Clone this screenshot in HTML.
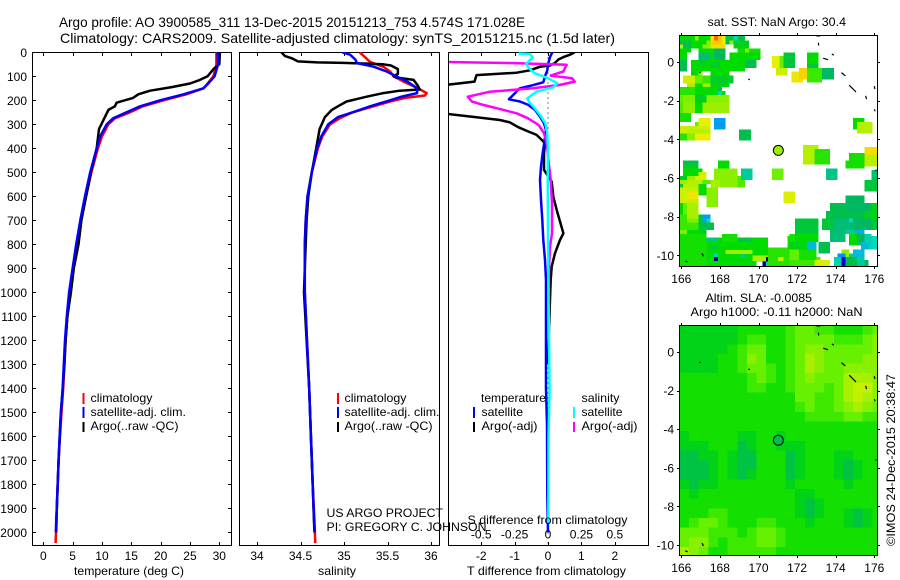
<!DOCTYPE html>
<html lang="en">
<head>
<meta charset="utf-8">
<title>Argo profile 3900585_311</title>
<style>
html,body{margin:0;padding:0;background:#fff;}
svg{display:block;}
text{font-family:"Liberation Sans",sans-serif;font-size:12px;fill:#000;}
.t14{font-size:14px;}
.ax{fill:none;stroke:#000;stroke-width:1;shape-rendering:crispEdges;}
</style>
</head>
<body>
<svg id="chart" xmlns="http://www.w3.org/2000/svg" width="900" height="580" viewBox="0 0 900 580">
<defs>
<clipPath id="clip-t"><rect x="33" y="52" width="198" height="493"/></clipPath>
<clipPath id="clip-s"><rect x="240" y="52" width="199" height="493"/></clipPath>
<clipPath id="clip-d"><rect x="449" y="52" width="199" height="493"/></clipPath>
<clipPath id="clip-m1"><rect x="679.5" y="35.5" width="198" height="231"/></clipPath>
<clipPath id="clip-m2"><rect x="679.5" y="325.5" width="198" height="230"/></clipPath>
</defs>
<rect x="0" y="0" width="900" height="580" fill="#fff"/>
<text class="t14" x="59" y="27" textLength="466" lengthAdjust="spacingAndGlyphs">Argo profile: AO 3900585_311 13-Dec-2015 20151213_753 4.574S 171.028E</text>
<text class="t14" x="60" y="43" textLength="555" lengthAdjust="spacingAndGlyphs">Climatology: CARS2009. Satellite-adjusted climatology: synTS_20151215.nc (1.5d later)</text>

<g id="layer-map1"></g>
<g id="layer-map2"></g>
<g id="layer-panels"></g>

<g>
<rect x="82.5" y="393" width="2" height="11" fill="#f00"/>
<rect x="82.5" y="407" width="2" height="11" fill="#00f"/>
<rect x="82.5" y="422" width="2" height="10" fill="#000"/>
<text x="90.5" y="402" textLength="62" lengthAdjust="spacingAndGlyphs">climatology</text>
<text x="90.5" y="416" textLength="95.5" lengthAdjust="spacingAndGlyphs">satellite-adj. clim.</text>
<text x="90.5" y="430" textLength="88" lengthAdjust="spacingAndGlyphs">Argo(..raw -QC)</text>
</g>
<g>
<rect x="337" y="393" width="2" height="11" fill="#f00"/>
<rect x="337" y="407" width="2" height="11" fill="#00f"/>
<rect x="337" y="422" width="2" height="10" fill="#000"/>
<text x="344.5" y="402" textLength="62" lengthAdjust="spacingAndGlyphs">climatology</text>
<text x="344.5" y="416" textLength="95" lengthAdjust="spacingAndGlyphs">satellite-adj. clim.</text>
<text x="344.5" y="430" textLength="88" lengthAdjust="spacingAndGlyphs">Argo(..raw -QC)</text>
</g>
<g>
<text x="481" y="402" textLength="65" lengthAdjust="spacingAndGlyphs">temperature</text>
<rect x="473" y="407" width="2" height="11" fill="#00f"/>
<rect x="473" y="422" width="2" height="10" fill="#000"/>
<text x="481.5" y="416" textLength="41.5" lengthAdjust="spacingAndGlyphs">satellite</text>
<text x="481.5" y="430" textLength="56" lengthAdjust="spacingAndGlyphs">Argo(-adj)</text>
<text x="581.5" y="402" textLength="38" lengthAdjust="spacingAndGlyphs">salinity</text>
<rect x="573" y="407" width="2" height="11" fill="#0ff"/>
<rect x="573" y="422" width="2" height="10" fill="#f0f"/>
<text x="581.5" y="416" textLength="41" lengthAdjust="spacingAndGlyphs">satellite</text>
<text x="581.5" y="430" textLength="56" lengthAdjust="spacingAndGlyphs">Argo(-adj)</text>
</g>

<text x="326.5" y="517" textLength="116.5" lengthAdjust="spacingAndGlyphs">US ARGO PROJECT</text>
<text x="326.5" y="531" textLength="160" lengthAdjust="spacingAndGlyphs">PI: GREGORY C. JOHNSON</text>
<text x="467.5" y="524" textLength="160" lengthAdjust="spacingAndGlyphs">S difference from climatology</text>
<text x="467" y="575" textLength="159" lengthAdjust="spacingAndGlyphs">T difference from climatology</text>
<text x="74" y="575" textLength="110" lengthAdjust="spacingAndGlyphs">temperature (deg C)</text>
<text x="318" y="575" textLength="38" lengthAdjust="spacingAndGlyphs">salinity</text>

<text x="707.5" y="26" textLength="138.5" lengthAdjust="spacingAndGlyphs">sat. SST: NaN Argo: 30.4</text>
<text x="705.5" y="302" textLength="106.5" lengthAdjust="spacingAndGlyphs">Altim. SLA: -0.0085</text>
<text x="690.5" y="316" textLength="172" lengthAdjust="spacingAndGlyphs">Argo h1000: -0.11 h2000: NaN</text>
<text transform="translate(895 546) rotate(-90)" x="0" y="0" textLength="172" lengthAdjust="spacingAndGlyphs">©IMOS 24-Dec-2015 20:38:47</text>
</svg>

<script>
/* ---------- axis tick data ---------- */
const depthTicks = [0,100,200,300,400,500,600,700,800,900,1000,1100,1200,1300,1400,1500,1600,1700,1800,1900,2000];
const tempTicks = [0,5,10,15,20,25,30];
const salTicks = [34,34.5,35,35.5,36];
const tDiffTicks = [-2,-1,0,1,2];
const sDiffTicks = [-0.5,-0.25,0,0.25,0.5];
const lonTicks = [166,168,170,172,174,176];
const latTicks = [0,-2,-4,-6,-8,-10];

/* ---------- temperature profiles ---------- */
const climTDepth = [0,50,100,130,150,175,200,225,250,275,300,350,400,500,600,700,800,900,1000,1100,1200,1300,1400,1500,1600,1700,1800,1900,2000,2045];
const climTemp = [29.5,29.5,29,28,27.3,24.4,20.5,17,14.8,12.2,11.1,10,9.3,8.2,7.3,6.4,5.8,5.1,4.5,4.1,3.8,3.6,3.4,3.1,2.85,2.6,2.45,2.3,2.16,2.1];
const satTDepth = [0,50,100,130,150,175,200,225,250,275,300,350,400,500,600,700,800,900,1000,1100,1200,1300,1400,1500,1600,1700,1800,1900,1950,2000];
const satTemp = [29.7,29.8,29.2,28.1,27.3,23.9,19.9,16.5,14.2,11.9,10.8,9.7,9.1,8,7.1,6.3,5.6,5,4.4,4,3.7,3.5,3.3,3,2.8,2.6,2.45,2.3,2.2,2.15];
const argoTDepth = [0,50,70,100,115,130,145,160,175,190,210,225,240,270,320,400,500,600,700,800,900,1000,1100,1200,1300,1400,1500,1600,1700,1800,1900,2000];
const argoTemp = [30.1,30,29,28,26.7,25,21.9,18.2,16.2,15.3,12.5,12.2,11.1,10.5,9.5,9.1,8.1,7.3,6.5,6,5.2,4.7,4.1,3.8,3.6,3.3,3,2.8,2.6,2.45,2.3,2.2];

/* ---------- salinity profiles ---------- */
const climSDepth = [0,20,40,60,80,100,125,150,170,180,190,205,225,250,275,300,350,400,500,600,700,800,1000,1400,1600,1800,1950,2045];
const climSal = [35.18,35.24,35.3,35.45,35.53,35.57,35.7,35.85,35.95,35.93,35.7,35.53,35.34,35.1,34.95,34.84,34.75,34.7,34.63,34.58,34.56,34.55,34.55,34.6,34.62,34.64,34.66,34.67];
const satSDepth = [0,10,30,45,60,80,100,125,150,170,185,200,225,250,270,300,350,400,500,600,700,800,1000,1400,1600,1800,1950,2000];
const satSal = [34.98,35.07,35.13,35.15,35.34,35.49,35.6,35.74,35.84,35.84,35.66,35.53,35.3,35.1,34.93,34.82,34.74,34.69,34.63,34.58,34.56,34.55,34.55,34.6,34.62,34.64,34.655,34.665];
const argoSDepth = [0,15,25,38,42,44,47,50,55,70,90,100,105,115,125,140,155,160,170,185,205,225,240,270,320,400,500,600,700,800,900,1000,1400,1800,2000];
const argoSal = [34.28,34.32,34.4,34.47,34.69,34.99,35.26,35.45,35.54,35.62,35.62,35.57,35.6,35.8,35.82,35.85,35.87,35.64,35.45,35.26,35.03,34.93,34.86,34.78,34.72,34.68,34.63,34.59,34.57,34.56,34.55,34.54,34.6,34.64,34.66];

/* ---------- difference profiles ---------- */
const dArgoTDepth = [0,10,20,30,45,55,60,75,85,95,122,135,150,250,257,271,282,292,312,330,344,365,379,420,490,539,601,657,705,754,782,837,893,948,1031,1150,1300];
const dArgoT = [0.8,0.66,0.46,0.31,0.2,0.06,-0.24,-0.54,-0.94,-2.14,-2.2,-3,-4,-4,-3,-2.14,-1.44,-1.14,-0.89,-0.59,-0.34,-0.19,-0.09,-0.12,-0.12,0.11,0.16,0.26,0.36,0.46,0.36,0.21,0.11,0.08,0.06,0.03,0];
const dSatTDepth = [0,20,50,75,100,115,125,140,150,160,171,196,205,219,240,268,296,324,365,420,476,532,615,698,782,865,948,1031,1400,1550,1850,2000];
const dSatT = [0.13,0.06,0,-0.02,-0.09,-0.12,-0.14,-0.54,-0.84,-0.92,-0.99,-1.17,-0.84,-0.59,-0.39,-0.24,-0.12,-0.06,-0.1,-0.16,-0.21,-0.24,-0.21,-0.17,-0.14,-0.09,-0.06,-0.06,-0.06,-0.03,-0.02,0];
const dArgoSDepth = [38,42,45,52,80,97,108,122,136,150,164,185,205,219,233,254,275,303,337,379,435,532,629,754,810,893,1000,1200];
const dArgoS = [-1,-0.6,-0.25,0.14,0.115,0.02,0.18,0.2,0.09,-0.11,-0.435,-0.6,-0.57,-0.485,-0.385,-0.235,-0.15,-0.07,-0.03,-0.01,0,0.02,0.03,0.03,0.015,0.008,0.005,0.005];
const dSatSDepth = [5,7,21,35,49,67,87,108,129,146,164,192,212,233,261,296,337,407,504,754,1031,1400,1600,1960];
const dSatS = [-0.22,-0.135,-0.115,-0.14,-0.165,-0.14,-0.1,0,0.07,0.04,-0.085,-0.155,-0.135,-0.1,-0.06,-0.02,-0.005,0,-0.002,0,0.004,0.012,0.004,0.002];

/* ---------- SST map: [lonWest, lonEast, latNorth, latSouth, sstDegC] ---------- */
const sstPatchesNorthWest = [
[165.9,166.7,1.4,1.1,29.5],[166.7,166.9,1.4,1.1,30.4],[166.9,167.5,1.4,1.1,29.5],[167.5,167.7,1.4,1.1,31],[167.7,167.9,1.4,1.1,32],[167.9,168.1,1.4,1.1,31.5],[168.1,168.3,1.4,1.1,31],[168.3,168.7,1.4,1.1,29.1],[168.7,168.9,1.4,1.1,28.5],[168.9,169.3,1.4,1.1,29.1],
[165.9,166.5,1.1,0.9,29.1],[166.5,167.3,1.1,0.9,29.5],[167.3,167.5,1.1,0.9,30.3],[167.5,168.1,1.1,0.9,31.4],[168.1,168.3,1.1,0.9,31],[168.3,168.5,1.1,0.9,29.1],[168.5,168.7,1.1,0.9,30.3],[168.7,169.5,1.1,0.9,29.3],
[165.9,166.1,0.9,0.7,30.6],[166.1,166.5,0.9,0.7,29.1],[166.5,167.1,0.9,0.7,29.5],[167.1,167.5,0.9,0.7,30.3],[167.5,167.7,0.9,0.7,30.8],[167.7,168.3,0.9,0.7,31.2],[168.7,169.5,0.9,0.7,29.4],
[165.9,166.5,0.7,0.5,29.5],[166.9,167.7,0.7,0.5,29.5],[167.7,168.3,0.7,0.5,29],[168.9,170.1,0.7,0.5,29.6],[169.3,169.5,0.7,0.5,30.3],
[165.9,166.3,0.5,0.1,29.5],[166.9,167.5,0.5,0.1,28.9],[167.5,167.7,0.5,0.1,29.5],[167.7,168.3,0.5,0.1,29],[168.5,170.1,0.5,0.1,29.5],
[165.9,166.3,0.1,-0.5,29.1],[166.5,169.3,0.1,-0.5,29.5],[169.3,169.9,0.1,-0.3,29.1],[166.9,167.3,0.1,-0.2,29.3],[167.5,168,0.05,-0.3,29.3],
[166.5,166.9,-0.5,-0.7,29.5],[166.9,167.1,-0.5,-0.7,30.3],[167.5,168.5,-0.5,-0.7,29.5],
[166.1,166.7,-0.7,-1.1,30.8],[166.7,167.1,-0.7,-1.1,30],[167.1,167.5,-0.7,-1.1,29.8],[167.5,168.7,-0.7,-1.1,29.3],
[166.3,166.7,-1.1,-1.3,30.5],[166.7,167.1,-1.1,-1.3,29.5],[167.1,167.5,-1.1,-1.3,30.4],[167.5,168.5,-1.1,-1.3,29.4],
[165.9,166.7,-1.3,-1.7,29.7],[166.7,167.9,-1.3,-1.7,29.5],[167.9,168.1,-1.5,-1.7,28.5],[167.9,168.1,-1.3,-1.5,29.2],[168.1,168.3,-1.5,-1.7,29.5],
[165.9,166.1,-1.7,-2.1,30],[166.1,166.7,-1.7,-2.1,30.2],[166.7,167.3,-1.7,-2.1,29.3],[167.3,168.5,-1.7,-2.1,30.3],
[165.9,166.1,-2.1,-2.65,29.9],[166.1,166.7,-2.1,-2.65,30.3],[166.7,167.1,-2.1,-2.65,29.5],[167.1,168.5,-2.1,-2.65,30.4],
[165.9,166.5,-2.65,-3.1,29.6],[166.7,166.9,-3.1,-3.3,30],[166.9,167.5,-2.9,-3.3,31],[165.9,166.9,-3.3,-3.5,30.7],[166.9,167.5,-3.3,-3.5,30.8],[167.7,168.3,-2.9,-3.5,28.1],
[165.9,166.3,-3.5,-3.7,30.8],[166.3,167.5,-3.5,-3.7,30.6],
[165.9,166.3,-3.7,-4.05,29.7],[166.3,166.7,-3.7,-4.05,30.3],[166.7,167.5,-3.7,-4.05,31],[169,169.6,-3.5,-4.05,29.1]
];
const sstPatchesNorthEast = [
[170.7,171.1,0.3,-0.3,31],[171.1,171.3,0.3,-0.3,30],[170.9,171.5,-0.3,-0.7,30.8],[171.3,171.9,0.5,-0.3,29.2],[171.7,172.3,-0.5,-1.07,31.1],[172.1,172.5,-0.3,-0.9,31.3],
[172.5,173.1,0.5,-0.1,29.5],[172.5,173.1,-0.1,-0.3,29.2],[172.5,173.3,-0.3,-1.07,29.8],[173.3,173.9,-0.3,-0.9,29],
[174.9,175.5,-2.9,-3.5,29.5],[175.1,175.9,-3.1,-3.7,30.6],
[172.3,173.1,-4.3,-5.3,30.6],[172.9,173.7,-4.5,-5.3,29.7],
[174.7,175.5,-4.7,-5.5,29.6],[174.5,175.5,-5.1,-5.5,29.6],[175.5,176.15,-4.4,-4.8,31.2],[175.5,176.15,-4.8,-5.4,30.6]
];
const sstPatchesSouthWest = [
[166.1,166.9,-5.1,-5.3,29.1],[166.1,166.9,-5.3,-5.5,29.3],[166.1,167.1,-5.5,-5.9,29.5],[166.9,167.3,-5.7,-5.9,30.8],
[167.9,168.5,-5.1,-5.7,29.5],[167.7,168.9,-5.5,-6.5,30.3],[168.9,169.3,-5.9,-6.5,29.9],[169.1,169.7,-5.5,-6.1,28.7],[170.7,171.3,-5.5,-6.1,30.1],
[165.9,166.3,-5.9,-6.1,29.3],[166.3,166.7,-5.9,-6.1,30.4],[166.7,167.3,-5.9,-6.1,30.9],
[165.9,166.3,-6.1,-6.3,30.4],[166.3,167.1,-6.1,-6.3,30.6],[167.1,167.5,-6.1,-6.3,29.9],[167.5,168,-6.1,-6.5,30.5],
[165.9,166.1,-6.3,-6.5,29.3],[166.1,166.9,-6.3,-6.5,30.6],[166.9,167.3,-6.3,-6.9,29.5],[167.3,167.9,-6.5,-6.9,30.3],
[165.9,166.3,-6.5,-7.3,30.8],[166.3,166.9,-6.5,-6.7,30.7],[166.3,166.9,-6.7,-7.1,31.1],[166.3,166.9,-7.1,-7.3,30.7],[167.3,167.9,-6.9,-7.5,30.3],
[165.9,166.1,-7.3,-7.9,29.5],[166.1,166.3,-7.3,-7.9,30],[166.3,166.9,-7.3,-8.1,30.5],[165.9,166.3,-7.9,-8.3,29.8],[166.3,166.9,-8.1,-8.3,30.2],
[166.9,167.1,-7.9,-8.7,29.2],[167.1,167.5,-7.9,-8.1,28.1],[167.1,167.3,-8.1,-8.3,28.1],[167.3,167.5,-8.1,-8.3,28.5],[167.1,167.7,-8.3,-8.7,29.1],
[165.9,166.9,-8.3,-8.7,29.8],[165.9,166.3,-8.7,-8.9,30.2],[166.3,167.1,-8.7,-8.9,29.5],[167.1,167.3,-8.7,-8.9,29.2],
[165.9,167.3,-8.9,-10.55,29.6],[167.3,168,-9.07,-9.3,28.8],[167.9,168.1,-9.07,-9.3,29.5],[168.1,168.9,-8.9,-9.3,29.6],[168.9,169.7,-9.07,-9.3,29.2],[169.7,170.5,-9.07,-9.3,29.5],
[167.3,169.9,-9.3,-10.55,29.5],[169.9,170.5,-9.3,-10.33,29.5],[167.5,167.9,-9.5,-9.7,29.2],[167.7,167.9,-9.9,-10.1,28.5],[167.7,167.9,-10.1,-10.3,27],
[168.3,169.7,-9.72,-9.93,30.4],[169.1,169.3,-9.93,-10.15,28.7],[169.7,170.5,-10,-10.3,30.5],[170.2,170.4,-10.33,-10.55,27],[170.4,170.6,-10.1,-10.33,27],[170.4,170.6,-10.33,-10.55,28.6],
[170.5,171.6,-9.6,-10.55,29.7],[171.5,171.9,-9,-9.7,29.6],[171,171.3,-10.1,-10.3,30.8]
];
const sstPatchesSouthEast = [
[173.5,174.1,-5.5,-6.1,28.8],[175.85,176.15,-5.6,-6.1,28.9],[175.5,176.15,-6.1,-6.7,29.2],[171.3,171.9,-6.7,-7.3,30.9],
[174.5,175.5,-6.9,-7.3,29],[173.7,174.5,-7.3,-7.7,29.1],[174.5,176.15,-7.3,-7.7,29],[175.85,176.15,-7.3,-7.7,29.4],
[173.5,176.15,-7.7,-8.1,29.1],[175.5,176.15,-7.7,-8.1,29.4],
[171.9,173.1,-8.1,-8.9,29.2],[173.3,173.9,-8.1,-8.7,29.2],[173.9,174.9,-8.1,-8.7,28.9],[174.7,174.9,-8.1,-8.3,28.5],[174.9,175.85,-8.1,-8.7,29],[175.85,176.15,-8.1,-8.7,29.2],
[173.7,174.5,-8.7,-9.3,28.9],[174.5,175,-8.7,-8.9,28.7],[175,175.5,-8.7,-8.9,28.2],[174.7,175.1,-8.9,-9.5,29.5],[175.1,175.5,-8.9,-9.5,29],[175.5,175.85,-8.9,-9.7,28.6],[175.85,176.15,-9,-9.7,28.5],[175.3,175.7,-9.3,-9.7,28.3],
[171.6,171.9,-8.9,-9.3,29.6],[171.9,173.1,-8.9,-9.3,29.5],[171.6,172.9,-9.3,-9.7,29.4],[172.5,173,-9.3,-9.7,28.3],[173.1,173.7,-9.3,-9.9,29.1],
[171.6,172.1,-9.7,-10.25,30],[172.1,173,-9.7,-10.25,29.6],[173,173.2,-10.1,-10.25,30],[171.6,172.9,-10.25,-10.55,29.8],[172.9,173.7,-10.25,-10.55,30.9],
[174.3,174.7,-9.7,-10.1,30.3],[174.1,174.5,-9.9,-10.25,28],[174.3,174.5,-10.1,-10.55,27.5],[173.9,174.3,-10.1,-10.55,28.6],[174.5,175.1,-10.1,-10.55,29.1],[174.9,175.5,-9.7,-10.1,28.3],[174.7,174.9,-9.9,-10.1,28.7],[175.1,175.5,-10.1,-10.55,28.7],[175.5,175.7,-10.25,-10.55,29]
];
const argoSst = 30.4;

/* ---------- SLA map: rows north to south, 0.5 degree cells, in cm ---------- */
const slaLonStart = 165.9;
const slaLatStart = 1.4;
const slaStep = 0.5;
const slaRows = [
[0,0,0,0,0,0,1,1,1,1,1,2,3,3,2,2,1,1,1,2,3],
[0,0,0,0,0,0,1,2,2,1,1,2,3,3,3,3,2,2,2,3,4],
[0,0,0,0,0,1,2,3,3,1,1,2,3,4,4,3,3,3,3,3,4],
[0,0,0,0,1,1,2,4,3,1,1,2,3,5,4,3,3,3,3,4,4],
[0,0,0,0,1,1,2,3,3,2,1,2,3,5,4,3,3,4,4,4,4],
[1,1,1,1,1,1,1,2,3,2,1,2,3,4,3,3,3,5,5,5,4],
[1,1,1,1,1,1,1,2,2,1,1,2,3,3,3,2,3,5,6,6,4],
[1,1,1,1,1,1,1,1,1,1,1,1,3,3,2,2,3,5,6,5,4],
[1,1,1,1,1,1,1,1,1,1,1,1,2,3,2,2,3,4,5,4,3],
[1,1,1,1,1,1,1,1,1,1,1,1,1,2,2,2,2,3,3,2,2],
[1,1,1,1,1,1,1,1,1,1,1,1,1,1,1,1,1,1,1,1,1],
[0,1,1,1,1,1,0,0,1,1,0,1,1,1,1,1,1,1,1,1,1],
[0,0,0,1,1,1,-1,0,1,1,0,0,0,1,1,1,1,1,1,1,1],
[-1,-1,0,0,1,0,-1,-1,1,1,1,-1,0,1,1,1,0,0,1,1,1],
[-1,-1,-1,0,1,0,-1,-1,1,1,1,-1,0,1,1,1,0,-1,0,1,1],
[-1,-1,-1,0,1,0,-1,0,1,1,1,-1,0,1,1,1,0,-1,0,1,1],
[0,-1,0,0,1,1,1,1,1,1,1,0,1,1,1,1,1,0,1,1,1],
[1,0,1,1,1,1,1,1,1,1,1,1,0,0,1,1,1,1,1,1,1],
[1,1,1,1,1,1,1,1,1,1,1,1,0,-1,0,1,1,1,1,1,1],
[1,1,1,2,2,1,1,1,1,1,1,1,0,-1,0,1,1,0,-1,0,1],
[1,2,3,3,2,1,1,1,2,2,1,1,1,0,1,1,1,0,-1,0,1],
[3,3,3,2,2,2,1,2,3,3,2,1,1,1,1,1,1,1,1,1,1],
[3,4,4,2,1,2,2,2,3,3,2,1,1,1,1,1,1,1,1,1,1],
[5,4,3,1,1,2,2,2,2,2,1,1,1,1,1,1,1,1,1,1,1]
];
const argoSla = -1.5;

/* ---------- float position and coast fragments (lon, lat) ---------- */
const floatLon = 171.028;
const floatLat = -4.574;
const coastLons = [[173,173.2],[173.1,173.12],[173.35,173.6],[173.8,173.9],[174.3,174.5],[174.7,175.05],[175.55,175.6],[176,176.03],[176,176.05],[176.05,176.12],[166.93,167],[169.47,169.55],[167.07,167.15],[166.2,166.33]];
const coastLats = [[1.35,1.35],[1.0,0.85],[0.2,0.12],[0.42,0.35],[-0.55,-0.72],[-1.2,-1.55],[-1.75,-1.92],[-1.25,-1.4],[-2.45,-2.55],[-5.6,-5.6],[-0.55,-0.52],[-0.88,-0.92],[-9.9,-10.05],[-10.3,-10.35]];

/* ---------- scales ---------- */
const yDepth = p => 52.3 + p * 0.24;
const xTemp = t => 43.3 + t * 5.867;
const xSal = s => 257 + (s - 34) * 87;
const xTDiff = d => 548 + d * 33.4;
const xSDiff = s => 548 + s * 133.6;
const xLon = l => 681.3 + (l - 166) * 19.3;
const ySst = v => 62 - v * 19.33;
const ySla = v => 352 - v * 19.3;

const SVGNS = 'http://www.w3.org/2000/svg';
function make(tag, attrs, parent) {
  const el = document.createElementNS(SVGNS, tag);
  for (const k in attrs) el.setAttribute(k, attrs[k]);
  parent.appendChild(el);
  return el;
}

/* colour scale: index 0 navy ... 10 orange-red */
const colourStops = [[0,0,128],[0,0,224],[0,144,255],[0,216,192],[0,184,96],[0,220,0],[96,240,0],[168,240,0],[232,240,0],[255,192,0],[255,96,0]];
function colourAt(idx) {
  const i = Math.max(0, Math.min(9.999, idx));
  const f = Math.floor(i), u = i - f;
  const a = colourStops[f], b = colourStops[f + 1];
  return 'rgb(' + [0,1,2].map(n => Math.round(a[n] + (b[n] - a[n]) * u)).join(',') + ')';
}
const sstColour = s => colourAt((s - 27) / 0.5);
const slaColour = cm => colourAt(4.75 + cm * 0.45);

/* ---------- profile panels ---------- */
const panels = document.getElementById('layer-panels');

function drawLine(parent, depths, values, xf, colour, clipId, name) {
  const pts = depths.map((p, i) => xf(values[i]).toFixed(1) + ',' + yDepth(p).toFixed(1)).join(' ');
  const el = make('polyline', {points: pts, fill: 'none', stroke: colour, 'stroke-width': 2.5, 'stroke-linejoin': 'round', 'clip-path': 'url(#' + clipId + ')'}, parent);
  
  
}

function drawFrame(parent, left, right, name) {
  const el = make('rect', {x: left, y: 52.5, width: right - left, height: 493, class: 'ax'}, parent);
  
  
}

function drawXTicks(parent, ticks, xf, labelY, name) {
  ticks.forEach(t => {
    const x = Math.round(xf(t)) + 0.5;
    const top = make('path', {d: 'M' + x + ' 52.5V56M' + x + ' 545.5V542', class: 'ax'}, parent);
    
    
    const lab = make('text', {x: xf(t), y: labelY, 'text-anchor': 'middle'}, parent);
    lab.textContent = String(t);
    
    
  });
}

drawFrame(panels, 32.5, 231.5, 'temperature-panel-frame');
drawFrame(panels, 239.5, 439.5, 'salinity-panel-frame');
drawFrame(panels, 448.5, 648.5, 'difference-panel-frame');

depthTicks.forEach(p => {
  const y = Math.round(yDepth(p)) + 0.5;
  const tick = make('path', {d: 'M32.5 ' + y + 'H36M231.5 ' + y + 'H228', class: 'ax'}, panels);
  
  
  const lab = make('text', {x: 27, y: yDepth(p) + 4.5, 'text-anchor': 'end'}, panels);
  lab.textContent = String(p);
  
  
});

drawXTicks(panels, tempTicks, xTemp, 560, 'temperature-axis');
drawXTicks(panels, salTicks, xSal, 560, 'salinity-axis');
drawXTicks(panels, tDiffTicks, xTDiff, 560, 't-difference-axis');

sDiffTicks.forEach(s => {
  const lab = make('text', {x: xSDiff(s), y: 538.5, 'text-anchor': 'middle'}, panels);
  lab.textContent = String(s);
  
  
});

const zeroLine = make('line', {x1: xTDiff(0), x2: xTDiff(0), y1: 52.5, y2: 545.5, stroke: '#000', 'stroke-width': 1, 'stroke-dasharray': '1 4', 'shape-rendering': 'crispEdges'}, panels);



drawLine(panels, climTDepth, climTemp, xTemp, '#f00', 'clip-t', 'temperature-climatology-line');
drawLine(panels, argoTDepth, argoTemp, xTemp, '#000', 'clip-t', 'temperature-argo-line');
drawLine(panels, satTDepth, satTemp, xTemp, '#00f', 'clip-t', 'temperature-satellite-line');

drawLine(panels, climSDepth, climSal, xSal, '#f00', 'clip-s', 'salinity-climatology-line');
drawLine(panels, argoSDepth, argoSal, xSal, '#000', 'clip-s', 'salinity-argo-line');
drawLine(panels, satSDepth, satSal, xSal, '#00f', 'clip-s', 'salinity-satellite-line');

drawLine(panels, dArgoTDepth, dArgoT, xTDiff, '#000', 'clip-d', 't-difference-argo-line');
drawLine(panels, dSatTDepth, dSatT, xTDiff, '#00f', 'clip-d', 't-difference-satellite-line');
drawLine(panels, dArgoSDepth, dArgoS, xSDiff, '#f0f', 'clip-d', 's-difference-argo-line');
drawLine(panels, dSatSDepth, dSatS, xSDiff, '#0ff', 'clip-d', 's-difference-satellite-line');

/* ---------- maps ---------- */
function drawMapAxes(parent, top, bottom, yf, name) {
  const frame = make('rect', {x: 679.5, y: top, width: 198, height: bottom - top, class: 'ax'}, parent);
  
  
  lonTicks.forEach(l => {
    const x = Math.round(xLon(l)) + 0.5;
    const t = make('path', {d: 'M' + x + ' ' + top + 'v-2.5M' + x + ' ' + bottom + 'v2.5', class: 'ax'}, parent);
    
    
    const lab = make('text', {x: xLon(l), y: bottom + 16.5, 'text-anchor': 'middle'}, parent);
    lab.textContent = String(l);
    
    
  });
  latTicks.forEach(v => {
    const y = Math.round(yf(v)) + 0.5;
    const t = make('path', {d: 'M679.5 ' + y + 'h-2.5M877.5 ' + y + 'h2.5', class: 'ax'}, parent);
    
    
    const lab = make('text', {x: 674, y: yf(v) + 4.5, 'text-anchor': 'end'}, parent);
    lab.textContent = String(v);
    
    
  });
}

function drawCoast(parent, yf, clipId, name) {
  coastLons.forEach((lons, i) => {
    const seg = make('line', {x1: xLon(lons[0]), x2: xLon(lons[1]), y1: yf(coastLats[i][0]), y2: yf(coastLats[i][1]), stroke: '#000', 'stroke-width': 1.2, 'clip-path': 'url(#' + clipId + ')'}, parent);
    
    
  });
}

function drawFloat(parent, yf, colour, name) {
  const c = make('circle', {cx: xLon(floatLon), cy: yf(floatLat), r: 5, fill: colour, stroke: '#000', 'stroke-width': 1}, parent);
  
  
}

const map1 = document.getElementById('layer-map1');
[sstPatchesNorthWest, sstPatchesNorthEast, sstPatchesSouthWest, sstPatchesSouthEast].forEach(group => {
  group.forEach(p => {
    const r = make('rect', {x: xLon(p[0]), y: ySst(p[2]), width: xLon(p[1]) - xLon(p[0]), height: ySst(p[3]) - ySst(p[2]), fill: sstColour(p[4]), 'shape-rendering': 'crispEdges', 'clip-path': 'url(#clip-m1)'}, map1);
    
    
  });
});
drawCoast(map1, ySst, 'clip-m1', 'sst-map');
drawFloat(map1, ySst, sstColour(argoSst), 'sst-float-marker');
drawMapAxes(map1, 35.5, 266.5, ySst, 'sst-map');

const map2 = document.getElementById('layer-map2');
slaRows.forEach((row, r) => {
  row.forEach((cm, c) => {
    const lon = slaLonStart + c * slaStep;
    const lat = slaLatStart - r * slaStep;
    const cell = make('rect', {x: xLon(lon), y: ySla(lat), width: xLon(lon + slaStep) - xLon(lon) + 0.4, height: ySla(lat - slaStep) - ySla(lat) + 0.4, fill: slaColour(cm), 'shape-rendering': 'crispEdges', 'clip-path': 'url(#clip-m2)'}, map2);
    
    
  });
});
drawCoast(map2, ySla, 'clip-m2', 'sla-map');
drawFloat(map2, ySla, slaColour(argoSla), 'sla-float-marker');
drawMapAxes(map2, 325.5, 555.5, ySla, 'sla-map');
</script>
</body>
</html>
